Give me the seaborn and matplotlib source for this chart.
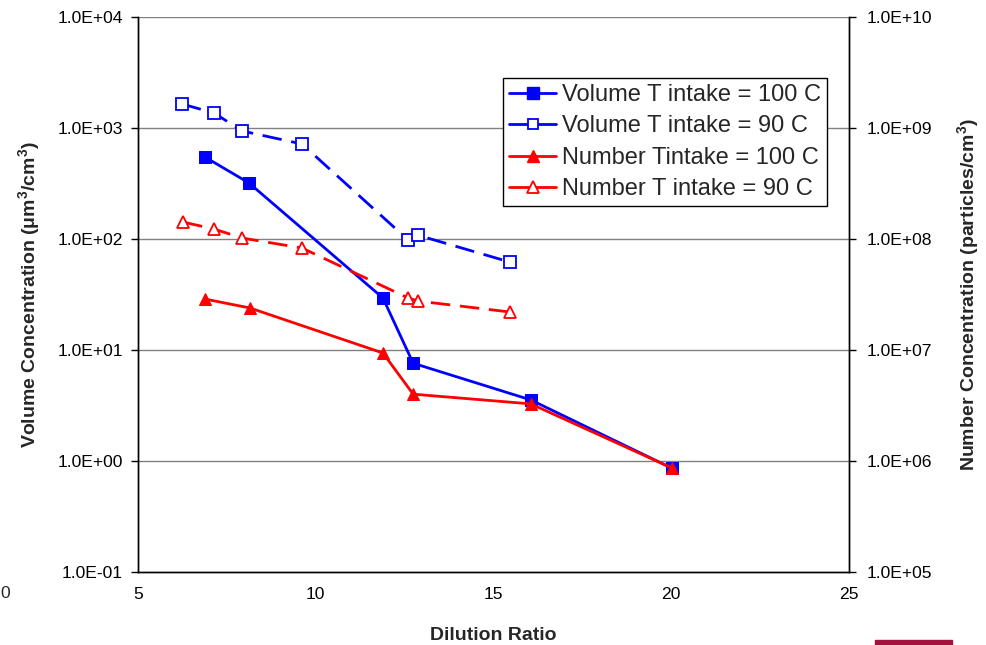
import matplotlib
matplotlib.use("Agg")
import matplotlib.pyplot as plt
import matplotlib.patches as mpatches
from matplotlib.lines import Line2D
import seaborn as sns
import numpy as np
import pandas as pd

# ---- data ----
vol100_x = [6.88, 8.12, 11.89, 12.74, 16.05, 20.02]
vol100_y = [548, 320, 29.4, 7.6, 3.55, 0.86]

vol90_x = [6.24, 7.14, 7.93, 9.61, 12.6, 12.88, 15.46]
vol90_y = [1645, 1365, 940, 718, 98, 108, 62]

num100_x = [6.88, 8.15, 11.89, 12.74, 16.05, 20.02]
num100_y = [2.88e7, 2.39e7, 9.4e6, 4.0e6, 3.27e6, 8.65e5]

num90_x = [6.27, 7.14, 7.93, 9.61, 12.6, 12.88, 15.46]
num90_y = [1.42e8, 1.23e8, 1.02e8, 8.3e7, 2.94e7, 2.76e7, 2.2e7]

series_labels = ["Volume T intake = 100 C", "Volume T intake = 90 C",
                 "Number Tintake = 100 C", "Number T intake = 90 C"]

x_ticks = [5, 10, 15, 20, 25]
left_ticks = [1e-1, 1e0, 1e1, 1e2, 1e3, 1e4]
left_labels = ["1.0E-01", "1.0E+00", "1.0E+01", "1.0E+02", "1.0E+03", "1.0E+04"]
right_ticks = [1e5, 1e6, 1e7, 1e8, 1e9, 1e10]
right_labels = ["1.0E+05", "1.0E+06", "1.0E+07", "1.0E+08", "1.0E+09", "1.0E+10"]

# ---- style ----
sns.set_theme(style="white")
plt.rcParams['font.family'] = ['Liberation Sans', 'DejaVu Sans']
plt.rcParams['mathtext.fontset'] = 'custom'
plt.rcParams['mathtext.rm'] = 'Liberation Sans'
plt.rcParams['mathtext.bf'] = 'Liberation Sans:bold'

fig = plt.figure(figsize=(9.87, 6.45), dpi=100)
ax = fig.add_axes([138/987, 1-572/645, (849-138)/987, (572-17)/645])
ax2 = ax.twinx()

blue = "#0000ff"
red = "#ff0000"
dash = (0, (7, 3.5))
lw = 2.0
ms_sq = 8
ms_tri = 9

sns.lineplot(x=vol100_x, y=vol100_y, ax=ax, color=blue, lw=lw, marker="s",
             markersize=ms_sq, markerfacecolor=blue, markeredgecolor=blue,
             estimator=None, sort=False, zorder=5)
sns.lineplot(x=vol90_x, y=vol90_y, ax=ax, color=blue, lw=lw, linestyle=dash,
             marker="s", markersize=ms_sq, markerfacecolor="white",
             markeredgecolor=blue, markeredgewidth=1.3,
             estimator=None, sort=False, zorder=5)
sns.lineplot(x=num100_x, y=num100_y, ax=ax2, color=red, lw=lw, marker="^",
             markersize=ms_tri, markerfacecolor=red, markeredgecolor=red,
             estimator=None, sort=False, zorder=5)
sns.lineplot(x=num90_x, y=num90_y, ax=ax2, color=red, lw=lw, linestyle=dash,
             marker="^", markersize=ms_tri, markerfacecolor="white",
             markeredgecolor=red, markeredgewidth=1.3,
             estimator=None, sort=False, zorder=5)

for a, ticks, labels, lo, hi in [(ax, left_ticks, left_labels, 1e-1, 1e4),
                                 (ax2, right_ticks, right_labels, 1e5, 1e10)]:
    a.set_yscale("log")
    a.set_ylim(lo, hi)
    a.set_yticks(ticks)
    a.set_yticklabels(labels)
    a.yaxis.set_minor_locator(matplotlib.ticker.NullLocator())

ax.set_xlim(5, 25)
ax.set_xticks(x_ticks)
ax.set_xticklabels([str(t) for t in x_ticks])

# grid lines at decades
for t in left_ticks[1:]:
    ax.axhline(t, color="#808080", lw=1.0, zorder=1)

for a in (ax, ax2):
    a.spines['top'].set_visible(False)
    for s in ('left', 'right', 'bottom'):
        a.spines[s].set_color('black')
        a.spines[s].set_linewidth(1.0)
    a.tick_params(axis='both', which='major', direction='out', length=5,
                  width=1, color='black', labelsize=12.6, labelcolor='black')
ax.tick_params(axis='y', pad=6)
ax2.tick_params(axis='y', pad=8)
ax.tick_params(axis='x', pad=6)
ax2.patch.set_visible(False)

ax.set_xlabel("Dilution Ratio", fontsize=14, fontweight="bold", labelpad=18)
ax.set_ylabel(r"Volume Concentration ($\mathbf{\mu}$m$^{\mathbf{3}}$/cm$^{\mathbf{3}}$)",
              fontsize=14, fontweight="bold", labelpad=10)
ax2.set_ylabel(r"Number Concentration (particles/cm$^{\mathbf{3}}$)",
               fontsize=14, fontweight="bold", labelpad=16)

handles = [
    Line2D([], [], color=blue, lw=lw, marker="s", markersize=ms_sq,
           markerfacecolor=blue, markeredgecolor=blue),
    Line2D([], [], color=blue, lw=lw, marker="s", markersize=ms_sq - 1,
           markerfacecolor="white", markeredgecolor=blue, markeredgewidth=1.3),
    Line2D([], [], color=red, lw=lw, marker="^", markersize=ms_tri,
           markerfacecolor=red, markeredgecolor=red),
    Line2D([], [], color=red, lw=lw, marker="^", markersize=ms_tri,
           markerfacecolor="white", markeredgecolor=red, markeredgewidth=1.3),
]
leg = ax2.legend(handles, series_labels, loc="upper left",
                 bbox_to_anchor=((503-138)/711, 1-(78-17)/555),
                 fontsize=17, frameon=True, fancybox=False, shadow=False,
                 edgecolor="black", framealpha=1, borderpad=0.25,
                 labelspacing=0.4, handlelength=2.0, handletextpad=0.25,
                 borderaxespad=0)
leg.get_frame().set_linewidth(1.0)
leg.set_zorder(10)

# stray text and bar at edges of the original image
fig.text(0.0, 1-593/645, "0", fontsize=12.6, ha="left", va="center")
fig.patches.append(mpatches.Rectangle((875/987, 0), (952-875)/987, 5/645,
                                      transform=fig.transFigure,
                                      color="#a3123f", zorder=0))

fig.savefig("out.png", dpi=100)
